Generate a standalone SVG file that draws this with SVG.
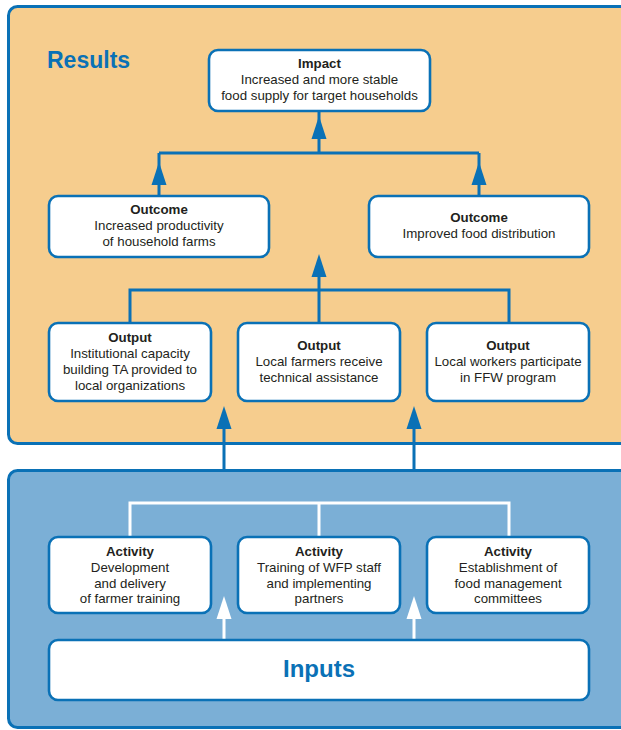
<svg xmlns="http://www.w3.org/2000/svg" width="621" height="730" viewBox="0 0 621 730">
<style>
.panel{stroke:#0A71B6;stroke-width:3}
.box{fill:#fff;stroke:#0A71B6;stroke-width:2.6}
.t{font-family:"Liberation Sans",Arial,sans-serif;font-size:13.3px;fill:#231F20;text-anchor:middle}
.h{font-weight:bold}
.big{font-family:"Liberation Sans",Arial,sans-serif;font-weight:bold;fill:#0A71B6}
.cb{stroke:#0A71B6;stroke-width:3;fill:none}
.cw{stroke:#fff;stroke-width:3;fill:none}
</style>
<defs>
<path id="ah" d="M0,0 L7.5,23 L-7.5,23 Z"/>
</defs>
<rect width="621" height="730" fill="#fff"/>
<g id="results-panel">
<rect class="panel" x="8.5" y="6.5" width="640" height="437" rx="9" fill="#F6CD8E"/>
<text class="big" x="47" y="68" font-size="23">Results</text>
</g>
<g id="inputs-panel">
<rect class="panel" x="8.5" y="470.5" width="640" height="257" rx="9" fill="#7BAFD6"/>
</g>
<g id="connectors">
<path class="cb" d="M319,111 V153 M159,153 H479 M159,153 V196 M479,153 V196"/>
<path class="cb" d="M319,323 V270 M130,323 V290 H509 V323"/>
<path class="cb" d="M224,470 V420 M414,470 V420"/>
<g fill="#0A71B6">
<use href="#ah" x="319" y="116"/>
<use href="#ah" x="159" y="162"/>
<use href="#ah" x="479" y="162"/>
<use href="#ah" x="319" y="254"/>
<use href="#ah" x="224" y="406"/>
<use href="#ah" x="414" y="406"/>
</g>
<path class="cw" d="M130,537 V503 H509 V537 M319,503 V537"/>
<path class="cw" d="M224,640 V610 M414,640 V610"/>
<g fill="#fff">
<use href="#ah" x="224" y="596"/>
<use href="#ah" x="414" y="596"/>
</g>
</g>
<g id="impact">
<rect class="box" x="209" y="50" width="221" height="61" rx="9"/>
<text class="t h" x="319.5" y="68">Impact</text>
<text class="t" x="319.5" y="84">Increased and more stable</text>
<text class="t" x="319.5" y="100">food supply for target households</text>
</g>
<g id="outcome1">
<rect class="box" x="49" y="196" width="220" height="61" rx="9"/>
<text class="t h" x="159" y="214">Outcome</text>
<text class="t" x="159" y="230">Increased productivity</text>
<text class="t" x="159" y="246">of household farms</text>
</g>
<g id="outcome2">
<rect class="box" x="369" y="196" width="220" height="61" rx="9"/>
<text class="t h" x="479" y="222">Outcome</text>
<text class="t" x="479" y="238">Improved food distribution</text>
</g>
<g id="output1">
<rect class="box" x="49" y="323" width="162" height="78" rx="9"/>
<text class="t h" x="130" y="342">Output</text>
<text class="t" x="130" y="358">Institutional capacity</text>
<text class="t" x="130" y="374">building TA provided to</text>
<text class="t" x="130" y="390">local organizations</text>
</g>
<g id="output2">
<rect class="box" x="238" y="323" width="162" height="78" rx="9"/>
<text class="t h" x="319" y="350">Output</text>
<text class="t" x="319" y="366">Local farmers receive</text>
<text class="t" x="319" y="382">technical assistance</text>
</g>
<g id="output3">
<rect class="box" x="427" y="323" width="162" height="78" rx="9"/>
<text class="t h" x="508" y="350">Output</text>
<text class="t" x="508" y="366">Local workers participate</text>
<text class="t" x="508" y="382">in FFW program</text>
</g>
<g id="activity1">
<rect class="box" x="49" y="537" width="162" height="76" rx="9"/>
<text class="t h" x="130" y="556">Activity</text>
<text class="t" x="130" y="572">Development</text>
<text class="t" x="130" y="588">and delivery</text>
<text class="t" x="130" y="603">of farmer training</text>
</g>
<g id="activity2">
<rect class="box" x="238" y="537" width="162" height="76" rx="9"/>
<text class="t h" x="319" y="556">Activity</text>
<text class="t" x="319" y="572">Training of WFP staff</text>
<text class="t" x="319" y="588">and implementing</text>
<text class="t" x="319" y="603">partners</text>
</g>
<g id="activity3">
<rect class="box" x="427" y="537" width="162" height="76" rx="9"/>
<text class="t h" x="508" y="556">Activity</text>
<text class="t" x="508" y="572">Establishment of</text>
<text class="t" x="508" y="588">food management</text>
<text class="t" x="508" y="603">committees</text>
</g>
<g id="inputs">
<rect class="box" x="49" y="640" width="540" height="60" rx="9"/>
<text class="big" x="319" y="677" font-size="24" text-anchor="middle">Inputs</text>
</g>
</svg>
